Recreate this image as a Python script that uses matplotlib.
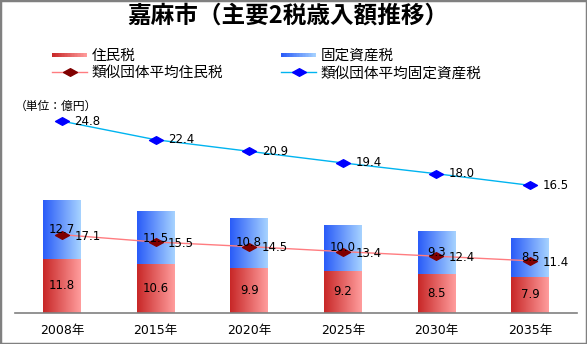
import matplotlib
matplotlib.use("Agg")
import matplotlib.pyplot as plt
import numpy as np
from matplotlib.colors import LinearSegmentedColormap, to_rgb
from matplotlib.legend_handler import HandlerBase
from matplotlib.patches import Rectangle
from matplotlib.path import Path
from matplotlib.lines import Line2D

plt.rcParams['font.family'] = ['Noto Sans CJK JP', 'DejaVu Sans']
NUMFONT = ['DejaVu Sans', 'Noto Sans CJK JP']

# data (億円)
years = ['2008年', '2015年', '2020年', '2025年', '2030年', '2035年']
jumin = [11.8, 10.6, 9.9, 9.2, 8.5, 7.9]          # 住民税
kotei = [12.7, 11.5, 10.8, 10.0, 9.3, 8.5]        # 固定資産税
ruiji_jumin = [17.1, 15.5, 14.5, 13.4, 12.4, 11.4]  # 類似団体平均住民税
ruiji_kotei = [24.8, 22.4, 20.9, 19.4, 18.0, 16.5]  # 類似団体平均固定資産税

red_l, red_r = '#C82828', '#FF9C9C'
blue_l, blue_r = '#2A5CF8', '#A6D2FF'

# wide flat diamond marker
diamond = Path([(-1, 0), (0, 0.55), (1, 0), (0, -0.55), (-1, 0)],
               [Path.MOVETO, Path.LINETO, Path.LINETO, Path.LINETO, Path.CLOSEPOLY])


class GradHandler(HandlerBase):
    def __init__(self, c1, c2):
        super().__init__()
        self.c1 = np.array(to_rgb(c1))
        self.c2 = np.array(to_rgb(c2))

    def create_artists(self, legend, orig_handle, xdescent, ydescent,
                       width, height, fontsize, trans):
        n = 24
        h = height * 0.45
        y0 = -ydescent + (height - h) / 2
        arts = []
        for i in range(n):
            col = self.c1 + (self.c2 - self.c1) * i / (n - 1)
            arts.append(Rectangle((-xdescent + width * i / n, y0), width / n * 1.05, h,
                                  facecolor=col, edgecolor='none', transform=trans))
        return arts


fig = plt.figure(figsize=(5.87, 3.44), dpi=100)
ax = fig.add_axes([15 / 587, 31 / 344, 562 / 587, 229 / 344])
ax2 = ax.twinx()

x = np.arange(len(years))
b1 = ax.bar(x, jumin, width=0.4, color='none', edgecolor='none')
b2 = ax.bar(x, kotei, width=0.4, bottom=jumin, color='none', edgecolor='none')

grad = np.linspace(0, 1, 64).reshape(1, -1)
for bars, c1, c2 in [(b1, red_l, red_r), (b2, blue_l, blue_r)]:
    cmap = LinearSegmentedColormap.from_list('g', [c1, c2])
    for r in bars:
        ax.imshow(grad, cmap=cmap, aspect='auto', zorder=1,
                  extent=(r.get_x(), r.get_x() + r.get_width(),
                          r.get_y(), r.get_y() + r.get_height()))

ax.bar_label(b1, labels=[f'{v:.1f}' for v in jumin], label_type='center',
             fontsize=8.5, family=NUMFONT, zorder=5)
ax.bar_label(b2, labels=[f'{v:.1f}' for v in kotei], label_type='center',
             fontsize=8.5, family=NUMFONT, zorder=5)

ax.plot(x, ruiji_jumin, color='#FF7C80', lw=1, marker=diamond, ms=10,
        mfc='#800000', mec='#800000', zorder=4)
for i, v in enumerate(ruiji_jumin):
    ax.annotate(f'{v:.1f}', (i, v), xytext=(9, -1), textcoords='offset points',
                va='center', ha='left', fontsize=8.5, family=NUMFONT, zorder=5)

ax2.plot(x, ruiji_kotei, color='#00B4F0', lw=1, marker=diamond, ms=10,
         mfc='#0000FF', mec='#0000FF')
for i, v in enumerate(ruiji_kotei):
    ax2.annotate(f'{v:.1f}', (i, v), xytext=(9, 0), textcoords='offset points',
                 va='center', ha='left', fontsize=8.5, family=NUMFONT)

ax.set_xlim(-0.5, len(years) - 0.5)
ax.set_ylim(0, 50)
ax2.set_ylim(0, 29.6)
ax.set_xticks(x, years, fontsize=9, family=NUMFONT)
ax.tick_params(axis='x', length=0, pad=8)
ax.set_yticks([])
ax2.set_yticks([])
for a in (ax, ax2):
    for s in ('top', 'left', 'right'):
        a.spines[s].set_visible(False)
ax2.spines['bottom'].set_visible(False)
ax.spines['bottom'].set_color('#808080')
ax.spines['bottom'].set_linewidth(1.2)

fig.text(288 / 587, 1 - 16 / 344, '嘉麻市（主要2税歳入額推移）', ha='center', va='center',
         fontsize=17, fontweight='bold')
fig.text(15 / 587, 1 - 106 / 344, '（単位：億円）', ha='left', va='center', fontsize=8.5)

h_red = Rectangle((0, 0), 1, 1)
h_blue = Rectangle((0, 0), 1, 1)
h_l1 = Line2D([], [], color='#FF7C80', lw=1, marker=diamond, ms=10, mfc='#800000', mec='#800000')
h_l2 = Line2D([], [], color='#00B4F0', lw=1, marker=diamond, ms=10, mfc='#0000FF', mec='#0000FF')
fig.legend([h_red, h_l1, h_blue, h_l2],
           ['住民税', '類似団体平均住民税', '固定資産税', '類似団体平均固定資産税'],
           handler_map={h_red: GradHandler(red_l, red_r), h_blue: GradHandler(blue_l, blue_r)},
           ncol=2, loc='upper left', bbox_to_anchor=(52 / 587, 1 - 49 / 344),
           frameon=False, fontsize=10.5, handlelength=2.4, handletextpad=0.3,
           columnspacing=4.0, labelspacing=0.22, borderpad=0, borderaxespad=0)

fig.patches.append(Rectangle((0, 0), 1, 1, transform=fig.transFigure, fill=False,
                             edgecolor='#808080', lw=2.5))

fig.savefig('out.png', dpi=100)
